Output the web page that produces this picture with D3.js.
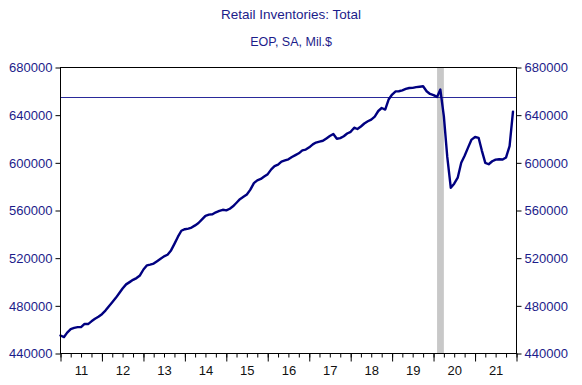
<!DOCTYPE html>
<html>
<head>
<meta charset="utf-8">
<script src="https://cdn.jsdelivr.net/npm/d3@7"></script>
<style>
  html, body { margin: 0; padding: 0; background: #fff; }
  svg { display: block; }
  text { font-family: "Liberation Sans", Arial, sans-serif; }
</style>
</head>
<body>
<svg id="chart" width="582" height="385"></svg>
<script>
// ---- Data ----
const title = "Retail Inventories: Total";
const subtitle = "EOP, SA, Mil.$";
const startMonth = "2011-01";   // monthly series, Jan 2011 .. Dec 2021
const inventories = [
  455100, 453800, 457500, 460500, 461500, 462100, 462100, 464800, 464700, 467000, 469100, 470800,
  473000, 476000, 479500, 483000, 486500, 490500, 494500, 498000, 499900, 501800, 503300, 505500,
  510500, 514000, 514600, 515500, 517500, 519500, 521500, 522900, 526500, 532000, 538000, 543000,
  544300, 544800, 545700, 547500, 549500, 552500, 555500, 556500, 556800, 558500, 559700, 560600,
  560100, 561500, 563500, 566500, 569500, 571500, 573500, 577500, 583000, 585300, 586500, 588500,
  590500, 594500, 597200, 598500, 601000, 602000, 603000, 604900, 606500, 608000, 610500, 611100,
  613000, 615500, 617000, 617800, 618500, 620500, 622500, 624200, 620200, 620700, 622300, 624600,
  626000, 629500, 628400, 630500, 633000, 634900, 636300, 638800, 643500, 646000, 644700, 653100,
  657300, 660000, 660100, 660800, 662000, 662800, 662900, 663500, 663900, 664300, 660100, 657800,
  656800, 655300, 661500, 639000, 605000, 579000, 582500, 587500, 600000, 606000, 613000, 619500,
  621700, 621000, 610500, 600000, 598800, 601300, 602700, 603000, 602800, 604500, 614000, 643000
];
const referenceLevel = 655000;
const recession = ["2020-02-01", "2020-04-01"];
const yTicks = [440000, 480000, 520000, 560000, 600000, 640000, 680000];
const xYears = [2011, 2012, 2013, 2014, 2015, 2016, 2017, 2018, 2019, 2020, 2021];
const xYearLabels = ["11", "12", "13", "14", "15", "16", "17", "18", "19", "20", "21"];

// ---- Layout ----
const svg = d3.select("#chart");
const L = 60.5, R = 516.5, T = 67.5, B = 353.5;
const navy = "#1c1c8a";
const lineColor = "#000080";

const parseMonth = d3.timeParse("%Y-%m");
const parseDay = d3.timeParse("%Y-%m-%d");
const start = parseMonth(startMonth);
const series = inventories.map((v, i) => ({ date: d3.timeMonth.offset(start, i), value: v }));

const x = d3.scaleTime()
  .domain([new Date(2011, 0, 1), new Date(2022, 0, 1)])
  .range([L, R]);
const y = d3.scaleLinear().domain([440000, 680000]).range([B, T]);

// Titles
svg.append("text").attr("x", 291).attr("y", 19).attr("text-anchor", "middle")
  .attr("font-size", 13.5).attr("fill", navy).text(title);
svg.append("text").attr("x", 291).attr("y", 46).attr("text-anchor", "middle")
  .attr("font-size", 12.5).attr("fill", navy).text(subtitle);

// Recession band
svg.append("rect")
  .attr("x", x(parseDay(recession[0])))
  .attr("y", T)
  .attr("width", x(parseDay(recession[1])) - x(parseDay(recession[0])))
  .attr("height", B - T)
  .attr("fill", "#c8c8c8");

// Reference line
svg.append("line")
  .attr("x1", L).attr("x2", R)
  .attr("y1", Math.round(y(referenceLevel)) + 0.5).attr("y2", Math.round(y(referenceLevel)) + 0.5)
  .attr("stroke", "#2a2a9a").attr("stroke-width", 1);

// Data line
const line = d3.line().x(d => x(d.date)).y(d => y(d.value)).curve(d3.curveLinear);
svg.append("path").datum(series)
  .attr("d", line)
  .attr("fill", "none")
  .attr("stroke", lineColor)
  .attr("stroke-width", 2.4)
  .attr("stroke-linejoin", "round")
  .attr("stroke-linecap", "round");

// Frame
svg.append("rect")
  .attr("x", L).attr("y", T).attr("width", R - L).attr("height", B - T)
  .attr("fill", "none").attr("stroke", "#000").attr("stroke-width", 1);

// Left axis
const leftAxis = d3.axisLeft(y).tickValues(yTicks).tickSize(5).tickPadding(3).tickFormat(d3.format("d"));
const gl = svg.append("g").attr("transform", `translate(${L},0)`).call(leftAxis);
// Right axis
const rightAxis = d3.axisRight(y).tickValues(yTicks).tickSize(5).tickPadding(3).tickFormat(d3.format("d"));
const gr = svg.append("g").attr("transform", `translate(${R},0)`).call(rightAxis);
[gl, gr].forEach(g => {
  g.select(".domain").remove();
  g.selectAll(".tick line").attr("stroke", "#000");
  g.selectAll(".tick text").attr("fill", navy).attr("font-size", 13)
    .attr("font-family", "'Liberation Sans', Arial, sans-serif");
});

// Bottom axis: quarterly minor ticks, yearly major ticks, labels mid-year
const minorTicks = d3.timeMonth.every(3).range(new Date(2011, 0, 1), new Date(2022, 0, 2));
const bottomMinor = d3.axisBottom(x).tickValues(minorTicks).tickSize(4).tickFormat("");
const gm = svg.append("g").attr("transform", `translate(0,${B})`).call(bottomMinor);
gm.select(".domain").remove();
gm.selectAll(".tick line").attr("stroke", "#000");

const majorTicks = d3.timeYear.range(new Date(2011, 0, 1), new Date(2022, 0, 2));
const bottomMajor = d3.axisBottom(x).tickValues(majorTicks).tickSize(8).tickFormat("");
const gM = svg.append("g").attr("transform", `translate(0,${B})`).call(bottomMajor);
gM.select(".domain").remove();
gM.selectAll(".tick line").attr("stroke", "#000");

const labelDates = xYears.map(yv => new Date(yv, 6, 1));
const bottomLabels = d3.axisBottom(x).tickValues(labelDates).tickSize(0).tickPadding(12)
  .tickFormat((d, i) => xYearLabels[i]);
const gb = svg.append("g").attr("transform", `translate(0,${B})`).call(bottomLabels);
gb.select(".domain").remove();
gb.selectAll(".tick text").attr("fill", "#111").attr("font-size", 13)
  .attr("font-family", "'Liberation Sans', Arial, sans-serif");
</script>
</body>
</html>
